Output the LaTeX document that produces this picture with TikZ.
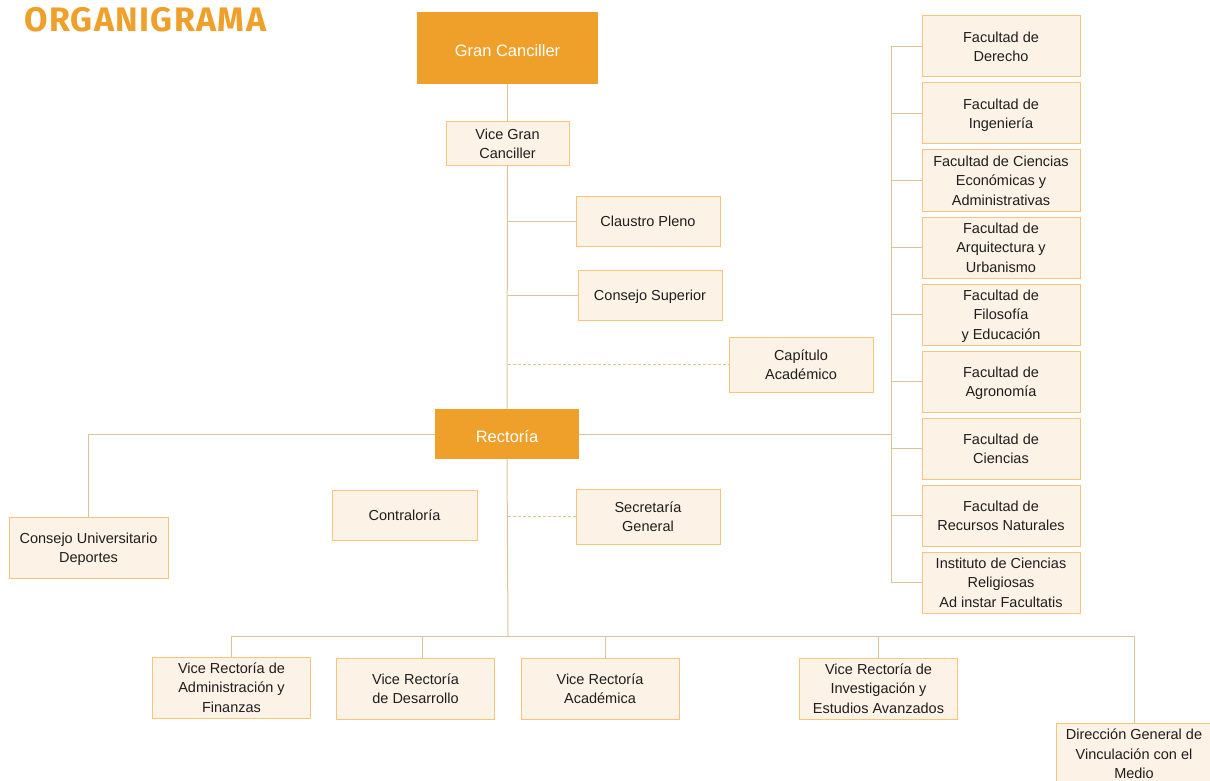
\documentclass[tikz,border=0pt]{standalone}
\usepackage{fontspec}
\setmainfont{Liberation Sans}
\newfontfamily\titlefont[LetterSpace=4]{Fira Sans}
\usetikzlibrary{positioning}
\definecolor{orgorange}{RGB}{239,160,42}
\definecolor{unitfill}{RGB}{253,242,230}
\definecolor{unitborder}{RGB}{246,196,122}
\definecolor{linktan}{RGB}{218,196,152}
\definecolor{textdark}{RGB}{30,30,30}
\tikzstyle{unit} = [rectangle, draw=unitborder, fill=unitfill, line width=1pt, text=textdark, align=center, inner sep=0pt, text depth=-6pt, font=\fontsize{14.5}{19.5}\selectfont]
\tikzstyle{faculty} = [unit, minimum width=158, minimum height=61]
\tikzstyle{vicerect} = [unit, minimum width=158, minimum height=61]
\tikzstyle{head} = [rectangle, fill=orgorange, text=white, align=center, text height=17pt, text depth=0pt, font=\fontsize{16.5}{20}\selectfont]
\tikzstyle{link} = [draw=linktan, line width=1pt]
\tikzstyle{dotlink} = [link, dash pattern=on 3pt off 2pt]

\begin{document}
\begin{tikzpicture}[x=1pt, y=-1pt, node distance=5pt]
	\useasboundingbox (0,0) rectangle (1210,781);
	\clip (0,0) rectangle (1210,781);

	% Title
	\node (title) [anchor=west, inner sep=0pt, text=orgorange, font=\titlefont\bfseries\fontsize{34}{36}\selectfont] at (24,20) {ORGANIGRAMA};

	% Top of the tree
	\node (gran) [head, minimum width=181, minimum height=72] at (507.5,48) {Gran Canciller};
	\node (vice) [unit, minimum width=123, minimum height=43] at (507.5,143.5) {Vice Gran\\Canciller};
	\node (claustro) [unit, minimum width=144, minimum height=50] at (648,221) {Claustro Pleno};
	\node (superior) [unit, minimum width=144, minimum height=50] at (650,295) {Consejo Superior};
	\node (capitulo) [unit, minimum width=144, minimum height=55] at (801,364.5) {Capítulo\\Académico};
	\node (rectoria) [head, minimum width=144, minimum height=50] at (507,434) {Rectoría};

	% Under Rectoría
	\node (deportes) [unit, minimum width=159, minimum height=61] at (88.5,547.5) {Consejo Universitario\\Deportes};
	\node (contraloria) [unit, minimum width=145, minimum height=50] at (404.5,515) {Contraloría};
	\node (secretaria) [unit, minimum width=144, minimum height=55] at (648,516.5) {Secretaría\\General};

	% Faculties
	\node (derecho) [faculty] at (1001,46.5) {Facultad de\\Derecho};
	\node (ingenieria) [faculty, below=of derecho] {Facultad de\\Ingeniería};
	\node (economicas) [faculty, below=of ingenieria] {Facultad de Ciencias\\Económicas y\\Administrativas};
	\node (arquitectura) [faculty, below=of economicas] {Facultad de\\Arquitectura y\\Urbanismo};
	\node (filosofia) [faculty, below=of arquitectura] {Facultad de\\Filosofía\\y Educación};
	\node (agronomia) [faculty, below=of filosofia] {Facultad de\\Agronomía};
	\node (ciencias) [faculty, below=of agronomia] {Facultad de\\Ciencias};
	\node (recursos) [faculty, below=of ciencias] {Facultad de\\Recursos Naturales};
	\node (instituto) [faculty, below=of recursos] {Instituto de Ciencias\\Religiosas\\Ad instar Facultatis};

	% Vice rectorías
	\node (finanzas) [vicerect] at (231.5,687.5) {Vice Rectoría de\\Administración y\\Finanzas};
	\node (desarrollo) [vicerect] at (415.5,688.5) {Vice Rectoría\\de Desarrollo};
	\node (academica) [vicerect] at (600,688.5) {Vice Rectoría\\Académica};
	\node (investigacion) [vicerect] at (878.5,688.5) {Vice Rectoría de\\Investigación y\\Estudios Avanzados};
	\node (vinculacion) [unit, minimum width=156, minimum height=62] at (1134,754) {Dirección General de\\Vinculación con el\\Medio};

	% Buses
	\coordinate (facbus) at (891,436);
	\coordinate (lowbus) at (508,636);

	% Main trunk
	\draw [link] (gran.south) -- (vice.north);
	\draw [link] (vice.south) -- (rectoria.north);
	\draw [link] (rectoria.south) -- (lowbus);
	\draw [link] (claustro.west -| vice.south) -- (claustro.west);
	\draw [link] (superior.west -| vice.south) -- (superior.west);
	\draw [dotlink] (capitulo.west -| vice.south) -- (capitulo.west);
	\draw [dotlink] (secretaria.west -| vice.south) -- (secretaria.west);

	% Rectoría sides
	\draw [link] (rectoria.west) -| (deportes.north);
	\draw [link] (rectoria.east) -- (rectoria.east -| facbus);

	% Faculty bus
	\draw [link] (derecho.west -| facbus) -- (instituto.west -| facbus);
	\draw [link] (derecho.west -| facbus) -- (derecho.west);
	\draw [link] (ingenieria.west -| facbus) -- (ingenieria.west);
	\draw [link] (economicas.west -| facbus) -- (economicas.west);
	\draw [link] (arquitectura.west -| facbus) -- (arquitectura.west);
	\draw [link] (filosofia.west -| facbus) -- (filosofia.west);
	\draw [link] (agronomia.west -| facbus) -- (agronomia.west);
	\draw [link] (ciencias.west -| facbus) -- (ciencias.west);
	\draw [link] (recursos.west -| facbus) -- (recursos.west);
	\draw [link] (instituto.west -| facbus) -- (instituto.west);

	% Lower bus
	\draw [link] (finanzas.north) -- (finanzas.north |- lowbus) -- (vinculacion.north |- lowbus) -- (vinculacion.north);
	\draw [link] (desarrollo.north |- lowbus) ++(7,0) -- ++(0,22);
	\draw [link] (academica.north |- lowbus) ++(5,0) -- ++(0,22);
	\draw [link] (investigacion.north |- lowbus) -- (investigacion.north);

\end{tikzpicture}
\end{document}
